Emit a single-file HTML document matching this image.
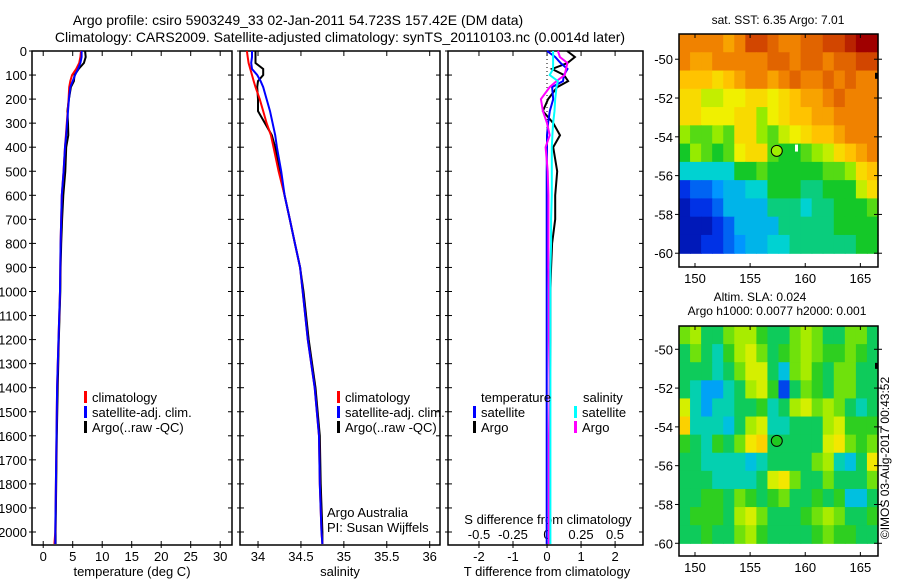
<!DOCTYPE html>
<html><head><meta charset="utf-8"><style>
html,body{margin:0;padding:0;background:#fff;}
svg{display:block;font-family:"Liberation Sans",sans-serif;}
</style></head><body>
<svg id="fig" width="900" height="580" viewBox="0 0 900 580" xmlns="http://www.w3.org/2000/svg"></svg>
<script>
// ---------- data ----------
const depths      = [0,25,50,75,100,125,150,200,250,300,350,400,500,600,700,800,900,1000,1200,1400,1600,1800,2000,2050];
const tempClim    = [6.4,6.3,6.1,5.6,4.9,4.6,4.4,4.3,4.15,4.0,3.85,3.7,3.45,3.15,3.05,2.95,2.9,2.85,2.6,2.35,2.25,2.15,2.05,1.9];
const tempSat     = [6.5,6.5,6.3,5.9,5.4,5.0,4.6,4.35,4.2,4.05,3.9,3.7,3.45,3.15,3.05,2.95,2.9,2.85,2.6,2.35,2.25,2.15,2.05,2.05];
const tempArgo    = [7.1,7.2,6.9,6.0,5.3,5.2,4.7,4.35,4.1,4.2,4.25,3.9,3.75,3.4,3.2,3.05,2.95,2.9,2.65,2.45,2.3,2.2,2.1,2.1];
const salClim     = [33.87,33.88,33.89,33.91,33.93,33.95,33.97,34.02,34.06,34.10,34.15,34.18,34.24,34.31,34.37,34.43,34.49,34.52,34.58,34.66,34.71,34.72,34.74,34.75];
const salSat      = [33.93,33.93,33.92,33.93,33.99,34.03,34.06,34.10,34.14,34.17,34.20,34.22,34.27,34.31,34.37,34.43,34.49,34.52,34.58,34.66,34.71,34.72,34.74,34.75];
const salArgo     = [33.97,33.97,33.97,34.06,34.06,34.00,33.99,34.00,34.00,34.08,34.16,34.20,34.25,34.31,34.37,34.43,34.49,34.53,34.59,34.67,34.72,34.73,34.75,34.75];
const dTempSat    = [0.0,0.24,0.4,0.6,0.5,0.47,0.15,0.18,0.08,0.03,0.0,0.0,-0.01,-0.01,-0.01,-0.01,-0.01,-0.01,-0.01,-0.01,-0.01,-0.01,-0.01,-0.01];
const dTempArgo   = [0.59,0.82,0.6,0.15,0.5,0.62,0.3,0.03,-0.12,0.18,0.38,0.18,0.3,0.24,0.24,0.15,0.12,0.1,0.1,0.08,0.08,0.08,0.08,0.08];
const dSalSat     = [0.045,0.045,0.045,0.045,0.02,0.08,0.07,0.06,0.055,0.045,0.04,0.035,0.035,0.035,0.03,0.03,0.025,0.025,0.025,0.025,0.025,0.025,0.025,0.025];
const dSalArgo    = [0.08,0.095,0.15,0.14,0.13,0.07,0.02,-0.045,-0.03,0.0,0.02,-0.01,0.005,0.01,0.01,0.01,0.01,0.015,0.015,0.02,0.015,0.015,0.015,0.015];
const depthTicks  = [0,100,200,300,400,500,600,700,800,900,1000,1100,1200,1300,1400,1500,1600,1700,1800,1900,2000];
const tempTicks   = [0,5,10,15,20,25,30];
const salTicks    = [34,34.5,35,35.5,36];
const salTickLbl  = ["34","34.5","35","35.5","36"];
const tdTicks     = [-2,-1,0,1,2];
const sdTicks     = [-0.5,-0.25,0,0.25,0.5];
const sdTickLbl   = ["-0.5","-0.25","0","0.25","0.5"];
const lonTicks    = [150,155,160,165];
const latTicks    = [-50,-52,-54,-56,-58,-60];
const sstGrid = [
[8,8,8,8,7.5,8,9,9,8.5,8,8,8.5,8.5,9,9,9.5,10,10],
[8,7.5,7.5,8,8,8,8,8,8.5,8.5,8,8.5,8.5,8,8.5,8.5,9,9],
[7,7,7,6.5,7,7.5,8,8,7.5,8,8.5,8,8,8.5,8,8.5,8,8],
[6.5,6.5,5.5,5.5,6,6,6.5,6.5,6,6.5,7,7.5,7.5,8,8.5,8,8,8],
[6.5,6.5,6,6,6,6.5,6.5,5,6,6.5,7,7,7.5,7.5,8,8,8,8],
[5,4.5,4.5,5,4.5,6.5,6.5,5,4.5,5.5,6,6.5,7,7,7.5,8,8,8],
[4,5,4.5,4,4.5,6,6.5,6.5,4.5,4,4,4.5,5,5.5,6.5,7,7.5,8],
[3,3,3,3,3,4,4,4.5,4,4,4,4,4,4.5,4.5,5,6.5,7],
[1,1.5,1.5,2,2.5,2.5,3,3,4,4,4,3.5,3.5,4,4,4,5.5,6.5],
[0.5,1,1,1.5,2.5,2.5,2.5,2.5,3.5,3.5,3.5,3,3.5,3.5,4,4,4,4.5],
[0.5,0.5,0.5,1,1.5,2.5,2.5,2.5,2.5,3.5,3.5,3.5,3.5,3.5,4,4,4,4],
[0.5,0.5,1,1,1.5,2,2.5,2.5,3,3,3.5,3.5,3.5,3.5,3.5,3.5,4,4]];
const slaGrid = [
[5,5.5,4,4,5,5.5,5.5,4.5,4,4,5,5.5,5,4,4,5,5,4],
[4,5,4,3.5,4.5,5.5,6,5,4,4.5,5,5.5,5,4.5,4.5,5,4.5,4],
[4,4,4,3.5,4,5,6,6,4,3,5,5.5,4.5,4,5,5,4,4],
[4,3.5,2.5,2.5,3.5,4,5.5,6,4.5,1.5,4,5,4.5,4,5,5,4,4],
[6,3.5,2.5,3.5,3.5,4,4,4.5,3.5,4,5.5,6,5,5.5,5,4,3.5,4],
[7,3.5,3.5,3.5,3,4,5.5,6,3.5,3.5,4,4,4,5.5,6,4.5,4.5,4.5],
[4.5,4,3.5,4.5,4,5,6.5,7,4,4,4,4,4,6,6.5,5,4.5,5],
[4,4,3.5,3.5,3.5,3.5,3,3.5,4,4,4,4,5,5.5,3.5,3,4,6.5],
[4,4,4,3.5,3.5,3.5,3.5,4,6,6.5,5,4,4,5,4,4,4,5],
[4,4,4.5,4.5,4,5,4.5,4,4.5,5,4,4,4.5,4,4.5,3,3,4],
[4,4.5,4.5,4.5,4,5.5,6,5,4,4,4,4.5,5,5.5,5,4,4,4.5],
[4,4,4.5,4,4,5,5.5,4.5,4,4,4,4,4.5,5,4.5,4.5,4,4]];
const argoLon = 157.42, argoLat = -54.723;

// ---------- helpers ----------
const NS="http://www.w3.org/2000/svg";
const svg=document.getElementById('fig');
function mk(tag,attrs,parent){const e=document.createElementNS(NS,tag);for(const k in attrs)e.setAttribute(k,attrs[k]);(parent||svg).appendChild(e);return e;}
function txt(s,x,y,anchor,size,parent,extra){const t=mk('text',Object.assign({x:x,y:y,'text-anchor':anchor||'start','font-size':size||12,fill:'#000'},extra||{}),parent);t.textContent=s;return t;}
const palette=[[0,0,140],[0,50,230],[0,150,255],[0,210,210],[20,200,40],[150,235,0],[240,240,0],[255,195,0],[240,130,0],[210,70,0],[160,0,0]];
function col(v){v=Math.max(0,Math.min(10,v));const i=Math.min(9,Math.floor(v)),f=v-i;const a=palette[i],b=palette[i+1];return 'rgb('+a.map((c,k)=>Math.round(c+(b[k]-c)*f)).join(',')+')';}

const PT=51, PB=545, yD=d=>PT+d*0.2405;
const panels=[
 {x0:32,x1:232,xmin:-1.9,xmax:32},
 {x0:240,x1:440,xmin:33.79,xmax:36.12},
 {x0:448,x1:643,xmin:-2.91,xmax:2.82}
];
function sx(p,v){return p.x0+(v-p.xmin)/(p.xmax-p.xmin)*(p.x1-p.x0);}
const sdScale=v=>547+v*136;

let t;
t=txt('Argo profile: csiro 5903249_33 02-Jan-2011 54.723S 157.42E (DM data)',298,25,'middle',14);

t=txt('Climatology: CARS2009. Satellite-adjusted climatology: synTS_20110103.nc (0.0014d later)',340,42,'middle',14);


function line(p,xs,color,name,fx){
  const pts=depths.map((d,i)=>(fx?fx(xs[i]):sx(p,xs[i])).toFixed(1)+','+yD(d).toFixed(1)).join(' ');
  const pl=mk('polyline',{points:pts,fill:'none',stroke:color,'stroke-width':2});
  
  
}

panels.forEach((p,pi)=>{
  const g=mk('rect',{x:p.x0,y:PT,width:p.x1-p.x0,height:PB-PT,fill:'#fff',stroke:'#000','stroke-width':1.5});
  
  
  depthTicks.forEach(d=>{
    mk('line',{x1:p.x0-3,x2:p.x0+4,y1:yD(d),y2:yD(d),stroke:'#000'});
    mk('line',{x1:p.x1-4,x2:p.x1,y1:yD(d),y2:yD(d),stroke:'#000'});
    if(pi===0){const l=txt(String(d),27,yD(d)+5,'end',13);
      }
  });
});
function xticks(p,vals,labels,fx){
  vals.forEach((v,i)=>{const x=fx?fx(v):sx(p,v);
    mk('line',{x1:x,x2:x,y1:PB-4,y2:PB+3,stroke:'#000'});
    mk('line',{x1:x,x2:x,y1:PT,y2:PT+5,stroke:'#000'});
    const l=txt(labels[i],x,PB+16,'middle',13);
    });
}
xticks(panels[0],tempTicks,tempTicks.map(String));
xticks(panels[1],salTicks,salTickLbl);
xticks(panels[2],tdTicks,tdTicks.map(String));
sdTicks.forEach((v,i)=>{const l=txt(sdTickLbl[i],sdScale(v),539,'middle',13);
  });
t=txt('temperature (deg C)',132,576,'middle',13);
t=txt('salinity',340,576,'middle',13);
t=txt('T difference from climatology',547,576,'middle',13);
t=txt('S difference from climatology',548,524,'middle',13);

for(let y=PT;y<PB;y+=4){mk('line',{x1:547,x2:547,y1:y,y2:y+1,stroke:'#000'});}

line(panels[0],tempArgo,'#000','temp-argo-line');
line(panels[0],tempClim,'#f00','temp-clim-line');
line(panels[0],tempSat,'#00f','temp-sat-line');
line(panels[1],salArgo,'#000','sal-argo-line');
line(panels[1],salClim,'#f00','sal-clim-line');
line(panels[1],salSat,'#00f','sal-sat-line');
line(panels[2],dTempArgo,'#000','tdiff-argo-line');
line(panels[2],dTempSat,'#00f','tdiff-sat-line');
line(panels[2],dSalArgo,'#f0f','sdiff-argo-line',sdScale);
line(panels[2],dSalSat,'#0ff','sdiff-sat-line',sdScale);

function legend(x,y,color,label){
  const g=mk('g',{});
  
  
  mk('rect',{x:x,y:y-11,width:3,height:12,fill:color},g);
  txt(label,x+8,y,'start',13,g);
}
legend(84,402,'#f00','climatology');legend(84,417,'#00f','satellite-adj. clim.');legend(84,432,'#000','Argo(..raw -QC)');
legend(337,402,'#f00','climatology');legend(337,417,'#00f','satellite-adj. clim.');legend(337,432,'#000','Argo(..raw -QC)');
t=txt('temperature',481,402,'start',13);
t=txt('salinity',583,402,'start',13);
legend(473,417,'#00f','satellite');legend(473,432,'#000','Argo');
legend(574,417,'#0ff','satellite');legend(574,432,'#f0f','Argo');
t=txt('Argo Australia',327,517,'start',13);
t=txt('PI: Susan Wijffels',327,532,'start',13);

function drawMap(grid,top,bottom,name,markFill,shift){
  const L=679,R=878,lonMin=148.55,lonMax=166.6,latTop=top.lat,y0=top.y;
  const lx=v=>L+(v-lonMin)/(lonMax-lonMin)*(R-L);
  const ly=v=>y0+(latTop-v)*19.4;
  const g=mk('g',{});
  const nr=grid.length,nc=grid[0].length;
  const lat0=latTop,lat1=-60;
  const cw=(R-L)/nc,ch=(ly(lat1)-ly(lat0))/nr;
  grid.forEach((row,r)=>row.forEach((v,c)=>{
    const cell=mk('rect',{x:(L+c*cw).toFixed(2),y:(ly(lat0)+r*ch).toFixed(2),width:(cw+0.6).toFixed(2),height:(ch+0.6).toFixed(2),fill:col(v+shift)},g);
    
    
  }));
  mk('rect',{x:L,y:y0,width:R-L,height:bottom-y0,fill:'none',stroke:'#000','stroke-width':1.5},g);
  lonTicks.forEach(v=>{mk('line',{x1:lx(v),x2:lx(v),y1:y0,y2:y0+4,stroke:'#000'},g);
    mk('line',{x1:lx(v),x2:lx(v),y1:bottom-4,y2:bottom,stroke:'#000'},g);
    txt(String(v),lx(v),bottom+16,'middle',13,g);});
  latTicks.forEach(v=>{mk('line',{x1:L-4,x2:L,y1:ly(v),y2:ly(v),stroke:'#000'},g);
    mk('line',{x1:R-4,x2:R+4,y1:ly(v),y2:ly(v),stroke:'#000'},g);
    txt(String(v),L-6,ly(v)+5,'end',13,g);});
  mk('rect',{x:875,y:ly(-50.7),width:3,height:6,fill:'#000'},g);
  const m=mk('circle',{cx:lx(argoLon),cy:ly(argoLat),r:5.5,fill:markFill,stroke:'#000','stroke-width':1},g);
  
  return {g,lx,ly};
}
const m1=drawMap(sstGrid,{y:34,lat:-48.7},267,'sst-map','#a0ee00',0);
mk('rect',{x:795,y:m1.ly(-54.4),width:3,height:7,fill:'#fff'});
t=txt('sat. SST: 6.35  Argo: 7.01',778,24,'middle',12);
const m2=drawMap(slaGrid,{y:326,lat:-48.8},556,'sla-map','#20c820',-0.3);
t=txt('Altim. SLA: 0.024',760,301,'middle',12);
t=txt('Argo h1000: 0.0077 h2000: 0.001',777,315,'middle',12);
t=txt('©IMOS 03-Aug-2017 00:43:52',0,0,'middle',12,svg,{transform:'translate(889,458) rotate(-90)'});

</script>
</body></html>
